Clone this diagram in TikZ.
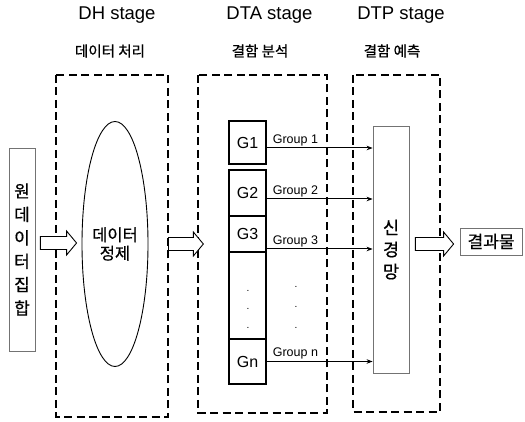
\documentclass[tikz,border=0pt]{standalone}
\usepackage{fontspec}
\setmainfont{Liberation Sans}
\newfontfamily\kr[FakeBold=0.7]{Noto Sans CJK KR}
\usetikzlibrary{shapes.geometric,arrows.meta,calc}
\tikzset{
  stagebox/.style={draw, line width=2pt, dash pattern=on 8pt off 4.5pt},
  title/.style={font=\fontsize{18.5}{20}\selectfont, inner sep=0pt},
  subtitle/.style={font=\kr\fontsize{14.5}{16}\selectfont, inner sep=0pt},
  graybox/.style={draw=black!55, line width=0.8pt, inner sep=0pt},
  gbox/.style={draw, line width=1.3pt, minimum width=37pt, inner sep=0pt, font=\fontsize{16}{18}\selectfont},
  grp/.style={draw, line width=1pt, -{Stealth[length=6pt,width=4.5pt]}},
  grplabel/.style={font=\fontsize{12.5}{14}\selectfont, inner sep=0pt, anchor=south west},
  harrow/.style={draw, line width=0.9pt, fill=white},
  dotlbl/.style={font=\fontsize{10}{12}\selectfont, inner sep=0pt}
}
\newcommand\hollowarrow[2]{%
  \path[harrow] let \p1=(#1), \p2=(#2) in
    (\x1,\y1+6.5pt) -- (\x2-10pt,\y1+6.5pt) -- (\x2-10pt,\y1+12pt) -- (\x2,\y1)
    -- (\x2-10pt,\y1-12pt) -- (\x2-10pt,\y1-6.5pt) -- (\x1,\y1-6.5pt) -- cycle;}
\begin{document}
\begin{tikzpicture}[x=1pt,y=1pt]
\useasboundingbox (0,0) rectangle (525,422);
% titles
\node[title] (t1) at (117,407) {DH stage};
\node[title] (t2) at (269.5,407) {DTA stage};
\node[title] (t3) at (401,407) {DTP stage};
\node[subtitle] (s1) at (110,371) {데이터 처리};
\node[subtitle] (s2) at (260,371) {결함 분석};
\node[subtitle] (s3) at (392,371) {결함 예측};
% stage boxes
\draw[stagebox] (56,347) rectangle (168,5);
\draw[stagebox] (198,347) rectangle (327,9);
\draw[stagebox] (353,347) rectangle (440,10);
% input
\node[graybox, minimum width=26pt, minimum height=203pt, align=center,
      font=\kr\fontsize{17}{23.4}\selectfont] (in) at (22,172.5) {원\\데\\이\\터\\집\\합};
% ellipse
\node[ellipse, draw, line width=0.9pt, minimum width=66pt, minimum height=245pt, inner sep=0pt,
      align=center, font=\kr\fontsize{16.5}{18.5}\selectfont] (el) at (115,178) {데이터\\정제};
% groups
\node[gbox, minimum height=43pt] (g1) at (247.5,279.5) {G1};
\node[gbox, minimum height=46pt] (g2) at (247.5,229) {G2};
\node[gbox, minimum height=36pt] (g3) at (247.5,188) {G3};
\node[gbox, minimum height=87pt] (gd) at (247.5,126.5) {};
\node[gbox, minimum height=45pt] (gn) at (247.5,60.5) {Gn};
\node[dotlbl] (d1) at (248,131) {.};
\node[dotlbl] (d2) at (248,113) {.};
\node[dotlbl] (d3) at (248,94) {.};
\node[dotlbl] (e1) at (296,135) {.};
\node[dotlbl] (e2) at (296,115) {.};
\node[dotlbl] (e3) at (296,94) {.};
% network
\node[graybox, minimum width=36pt, minimum height=247pt, align=center,
      font=\kr\fontsize{17.5}{22}\selectfont] (net) at (391,172.5) {신\\경\\망};
% output
\node[graybox, minimum width=62pt, minimum height=27pt,
      font=\kr\fontsize{17}{18}\selectfont] (out) at (491,180.5) {결과물};
% group arrows
\coordinate (a1) at ([yshift=-5.5pt]g1.east);
\coordinate (a2) at ([yshift=-6pt]g2.east);
\coordinate (a3) at ([yshift=-15pt]g3.east);
\coordinate (an) at ([yshift=0pt]gn.east);
\draw[grp] (a1) -- (a1 -| net.west);
\draw[grp] (a2) -- (a2 -| net.west);
\draw[grp] (a3) -- (a3 -| net.west);
\draw[grp] (an) -- (an -| net.west);
\node[grplabel] (l1) at ([xshift=6pt,yshift=2pt]a1) {Group 1};
\node[grplabel] (l2) at ([xshift=6pt,yshift=2pt]a2) {Group 2};
\node[grplabel] (l3) at ([xshift=6pt,yshift=2pt]a3) {Group 3};
\node[grplabel] (ln) at ([xshift=6pt,yshift=2pt]an) {Group n};
% hollow arrows
\coordinate (h1s) at ([xshift=5pt,yshift=6.5pt]in.east);
\coordinate (h1e) at ([xshift=-5pt]el.west);
\hollowarrow{h1s}{h1e}
\coordinate (h2s) at ([xshift=20pt]el.east);
\coordinate (h2e) at ([xshift=-25pt]g3.west);
\hollowarrow{h2s}{h2e}
\coordinate (h3s) at ([xshift=6pt,yshift=5.5pt]net.east);
\coordinate (h3e) at ([xshift=-6pt]out.west);
\hollowarrow{h3s}{h3e}
\end{tikzpicture}
\end{document}
